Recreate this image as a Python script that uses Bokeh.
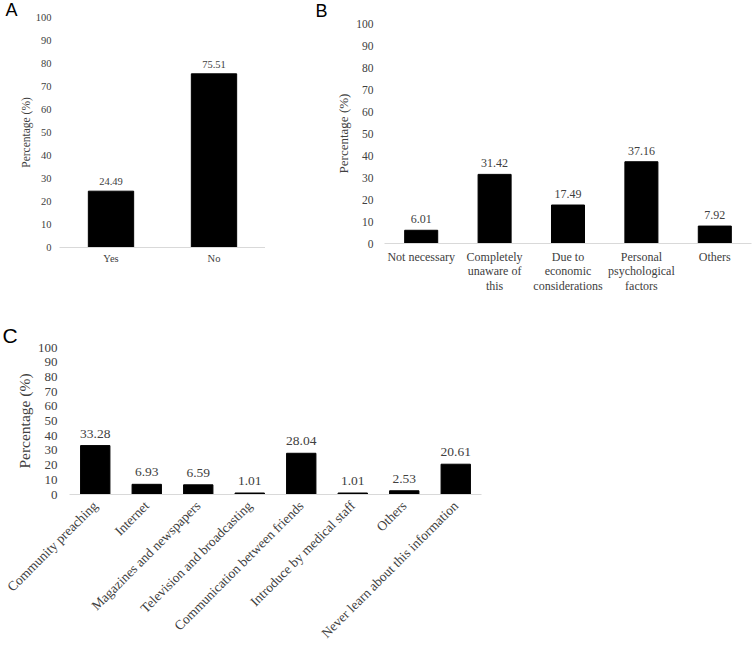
import math
from bokeh.plotting import figure
from bokeh.layouts import column, row
from bokeh.models import ColumnDataSource, LabelSet, Title, FixedTicker, FactorRange, Range1d
from bokeh.embed import file_html
from bokeh.resources import INLINE

# ---------------- data ----------------
cats_a = ["Yes", "No"]
vals_a = [24.49, 75.51]

cats_b = ["Not necessary", "Completely\nunaware of\nthis", "Due to\neconomic\nconsiderations",
          "Personal\npsychological\nfactors", "Others"]
vals_b = [6.01, 31.42, 17.49, 37.16, 7.92]

cats_c = ["Community preaching", "Internet", "Magazines and newspapers", "Television and broadcasting",
          "Communication between friends", "Introduce by medical staff", "Others",
          "Never learn about this information"]
vals_c = [33.28, 6.93, 6.59, 1.01, 28.04, 1.01, 2.53, 20.61]

y_ticks = list(range(0, 101, 10))

SERIF = "Liberation Serif"
SANS = "Liberation Sans"
TXT = "#404040"


def make_panel(cats, vals, width, height, left, right, top, bottom, bar_w,
               tick_size, val_size, cat_size, title_size, label_standoff, axis_label_standoff,
               val_off, cat_standoff, orientation="horizontal"):
    src = ColumnDataSource(dict(cat=cats, val=vals, txt=[f"{v:.2f}" for v in vals]))
    p = figure(x_range=FactorRange(*cats, range_padding=0), y_range=Range1d(0, 100),
               width=width, height=height, output_backend="svg", toolbar_location=None,
               min_border_left=left, min_border_right=right, min_border_top=top,
               min_border_bottom=bottom)
    try:
        p.frame_align = False
    except Exception:
        pass
    p.vbar(x="cat", top="val", width=bar_w, source=src, color="black")
    p.add_layout(LabelSet(x="cat", y="val", text="txt", source=src, y_offset=val_off,
                          text_align="center", text_baseline="alphabetic",
                          text_font=SERIF, text_font_size=f"{val_size}px", text_color=TXT))
    p.xgrid.visible = False
    p.ygrid.visible = False
    p.outline_line_color = None
    p.yaxis.ticker = FixedTicker(ticks=y_ticks)
    p.yaxis.axis_line_color = None
    p.yaxis.major_tick_line_color = None
    p.yaxis.minor_tick_line_color = None
    p.yaxis.major_tick_out = 0
    p.yaxis.minor_tick_out = 0
    p.yaxis.major_label_text_font = SERIF
    p.yaxis.major_label_text_font_size = f"{tick_size}px"
    p.yaxis.major_label_text_color = TXT
    p.yaxis.major_label_standoff = label_standoff
    p.yaxis.axis_label = "Percentage (%)"
    p.yaxis.axis_label_text_font = SERIF
    p.yaxis.axis_label_text_font_style = "normal"
    p.yaxis.axis_label_text_font_size = f"{title_size}px"
    p.yaxis.axis_label_text_color = TXT
    p.yaxis.axis_label_standoff = axis_label_standoff
    p.xaxis.axis_line_color = "#d9d9d9"
    p.xaxis.major_tick_line_color = None
    p.xaxis.minor_tick_line_color = None
    p.xaxis.major_tick_out = 0
    p.xaxis.minor_tick_out = 0
    p.xaxis.major_label_text_font = SERIF
    p.xaxis.major_label_text_font_size = f"{cat_size}px"
    p.xaxis.major_label_text_color = TXT
    p.xaxis.major_label_standoff = cat_standoff
    p.xaxis.major_label_orientation = orientation
    return p


def panel_letter(p, letter, size, offset, standoff, valign):
    p.add_layout(Title(text=letter, align="left", offset=offset, standoff=standoff,
                       vertical_align=valign, text_font=SANS, text_font_size=f"{size}px",
                       text_font_style="normal", text_color="black"), "above")


# Panel A
pA = make_panel(cats_a, vals_a, 265, 320, 59, 0, 17, 73, 0.44,
                10.5, 10.5, 10.5, 11.5, 8, 1, 6, 5)
panel_letter(pA, "A", 18, -54, -8, "top")

# Panel B
pB = make_panel(cats_b, vals_b, 491, 320, 119, 5, 23, 77, 0.45,
                11.5, 12, 12, 13, 11, 2, 7, 6)
pB.xaxis.major_label_text_line_height = 1.05
panel_letter(pB, "B", 18, -69, 1, "top")

# Panel C
pC = make_panel(cats_c, vals_c, 756, 329, 69, 275, 27, 153, 0.57,
                13, 13.5, 13.5, 15.5, 12, 2, 8, 9, orientation=math.pi / 4)
panel_letter(pC, "C", 21, -67, -3, "top")

layout = column(row(pA, pB, spacing=0), pC, spacing=0)
open("out.html", "w").write(file_html(layout, INLINE))
